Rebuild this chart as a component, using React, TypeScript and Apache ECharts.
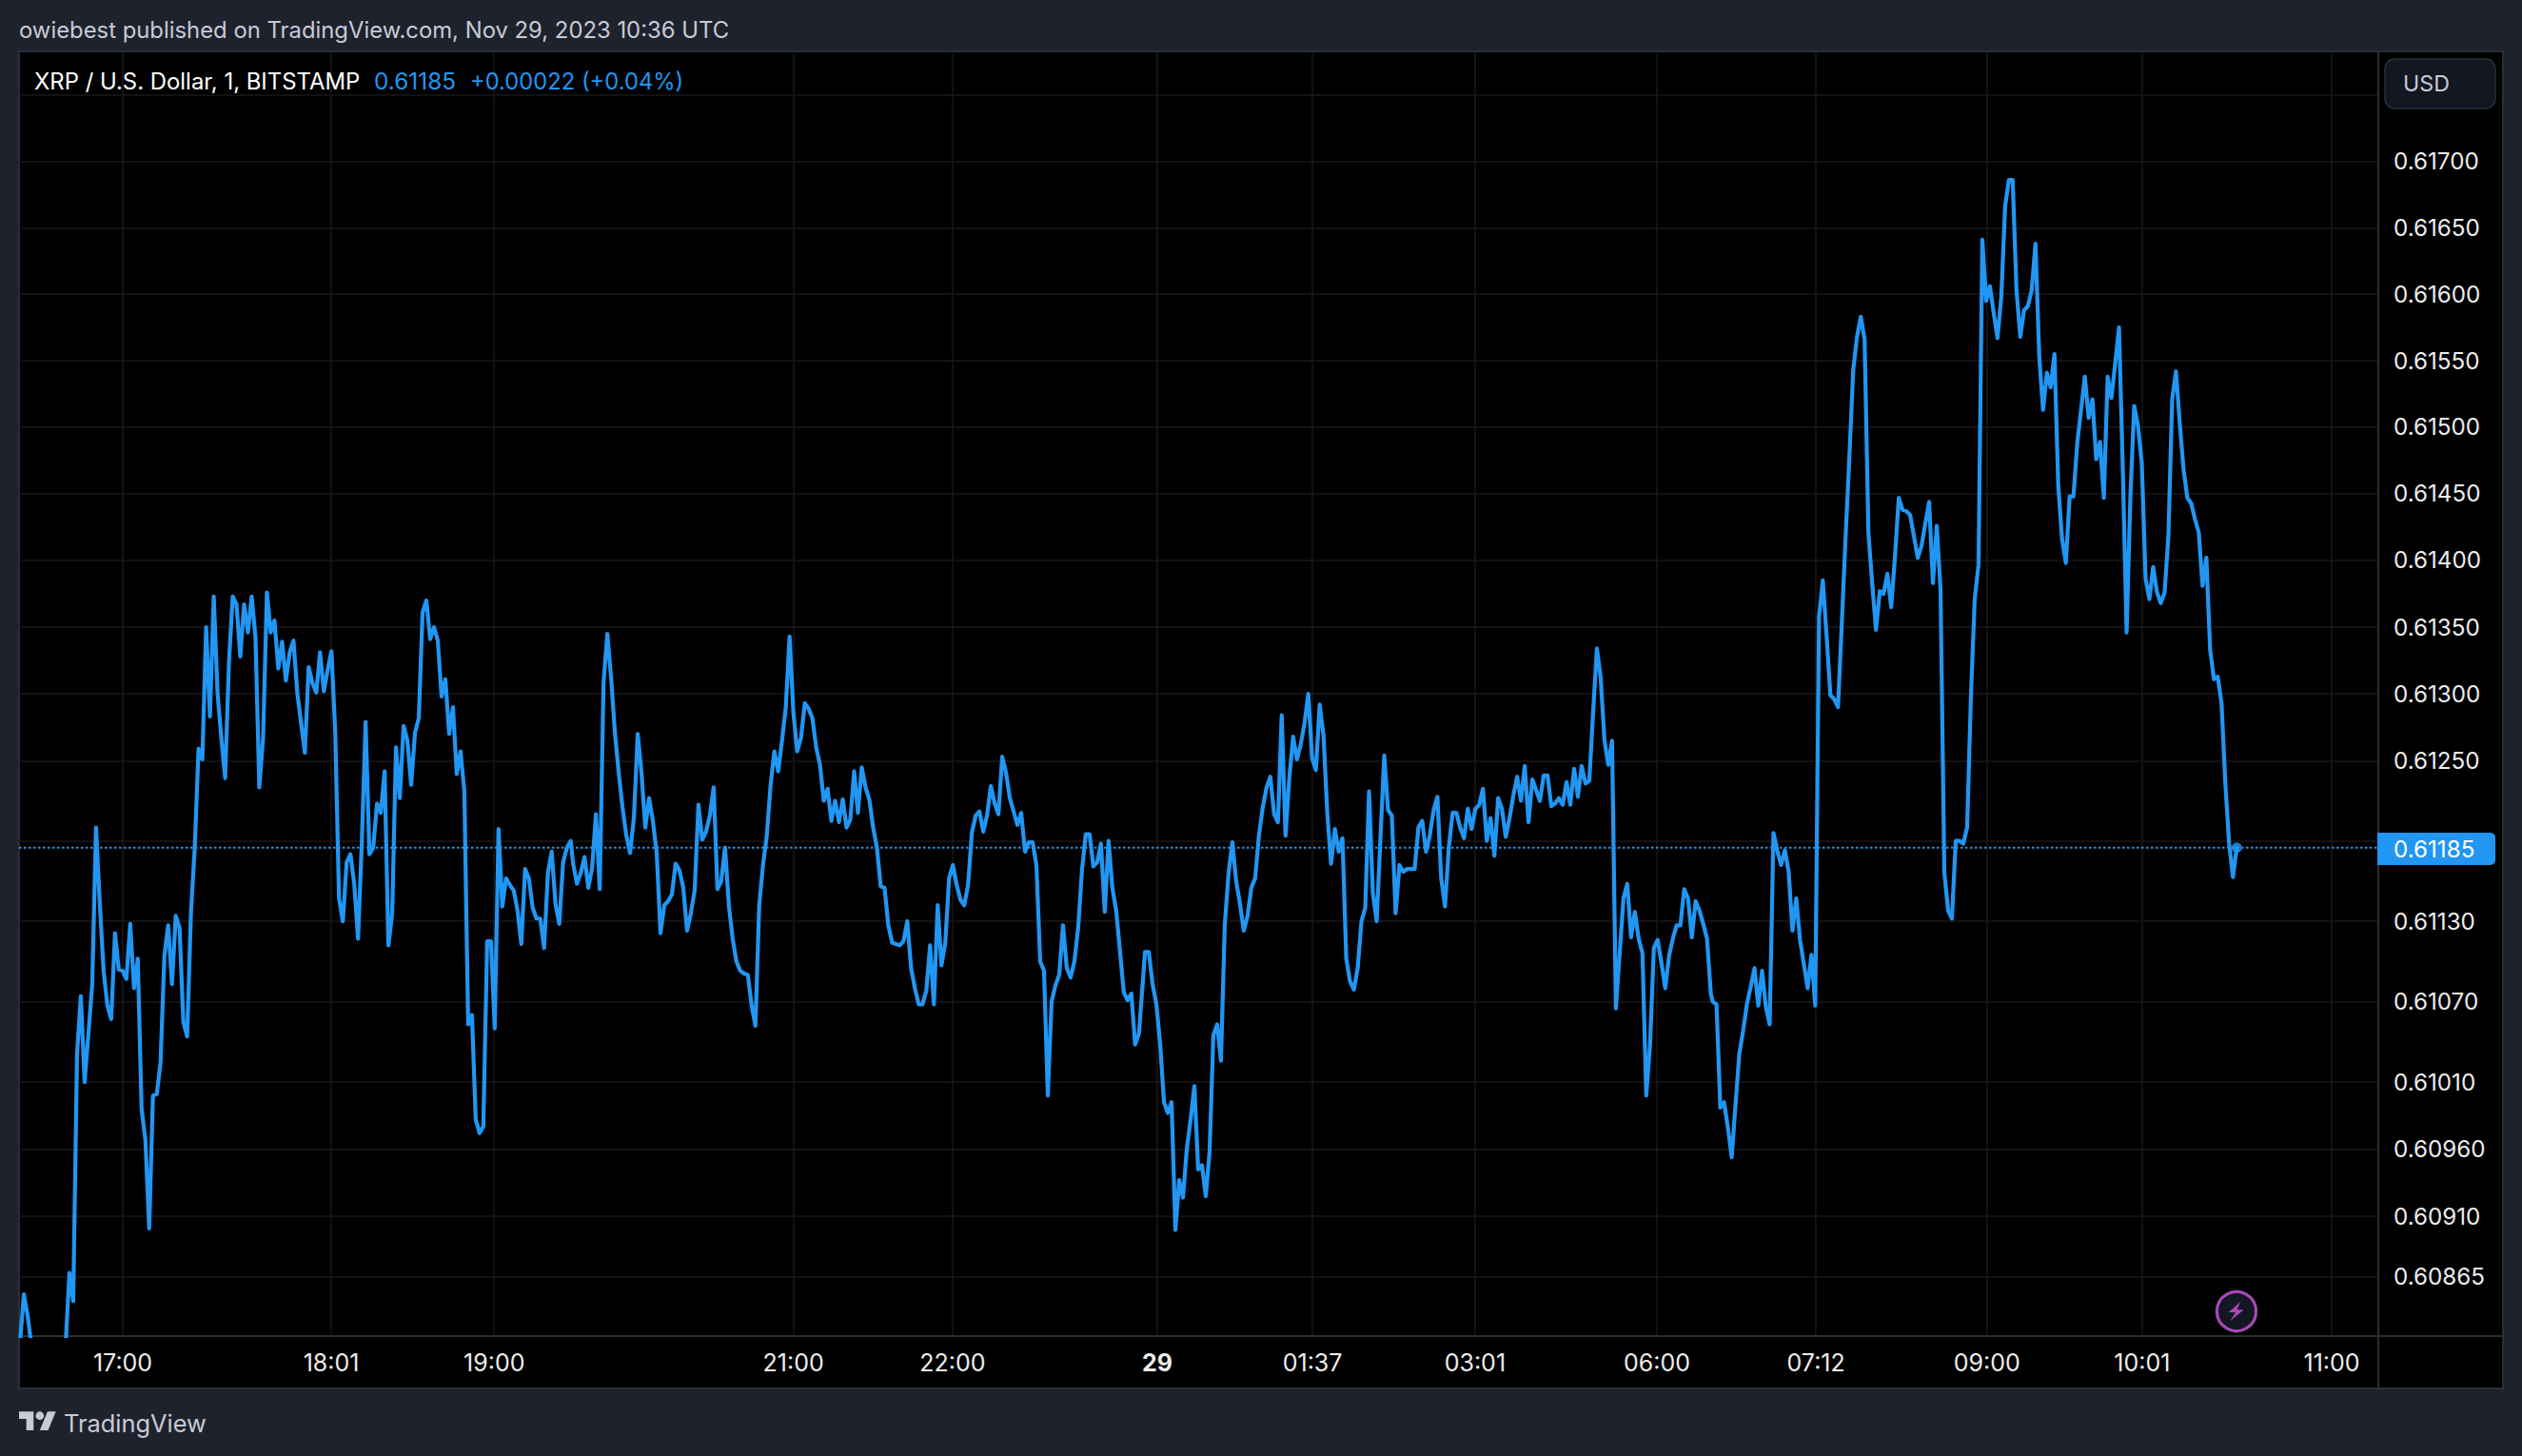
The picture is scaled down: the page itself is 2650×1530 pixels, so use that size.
import React, { useEffect, useRef } from "react";
import * as echarts from "echarts";

// Prices are in units of 0.00001 USD, one value per plotted bar.
const PRICE_UNIT = 0.00001;
const pricesA = [
  60817,60852,60836,60814,60800,60790,60785,60790,60780,60790,60795,60800,60815,
  60868,60847,61031,61074,61010,61046,61083,61200,61143,61093,61067,61057,61121,61094,61093,61087,61128,61080,61102,60990,60967,60901,61000,61001,61025,61104,61127,61083,61134,61125,61055,61044,61136,61185,61259,61251,61350,61283,61373,61301,61267,61237,61323,61373,61367,61328,61367,61346,61373,61342,61230,61267,61376,61346,61355,61319,61339,61310,61331,61340,61301,61278,61256,61320,61308,61301,61331,61302,61318,61332,61271,61147,61130,61174,61180,61158,61117,61189,61279,61180,61185,61218,61211,61242,61112,61136,61260,61222,61276,61265,61232,61271,61282,61361,61370,61341,61350,61340,61298,61311,61270,61290,61240,61257,61227,61053,61060,60982,60972,60977,61115,61115,61050,61199,61141,61162,61157,61153,61138,61113,61169,61162,61140,61132,61132,61110,61166,61182,61143,61128,61174,61185,61190,
];
const pricesB = [
  61173,61158,61166,61178,61155,61170,61210,61154,61308,61345,61312,61271,61241,61215,61194,61181,61207,61270,61241,61200,61222,61205,61181,61121,61142,61145,61150,61173,61168,61155,61123,61136,61153,61217,61191,61197,61209,61230,61154,61160,61185,61142,61117,61100,61093,61091,61090,61067,61052,61142,61172,61194,61232,61257,61242,61265,61290,61343,61286,61257,61267,61293,61289,61282,61260,61247,61220,61229,61205,61220,61204,61221,61200,61206,61242,61211,61245,61230,61221,61200,61185,61156,61155,61127,61114,61113,61112,61115,61130,61095,61080,61068,61068,61078,61112,61068,61142,61097,61114,61162,61172,61157,61146,61142,61157,61196,61209,61212,61197,61209,61231,61218,61210,61253,61241,61222,61212,61202,61211,61182,61189,61189,61172,61100,61093,61000,61070,61082,61090,61127,61095,61088,61100,61125,61168,61195,61195,61171,61174,61188,61137,61190,61155,61138,61108,61077,61071,61076,61038,61046,
];
const pricesC = [
  61107,61107,61083,61068,61038,60995,60987,60995,60900,60937,60924,60960,60982,61007,60945,60948,60925,60958,61045,61053,61026,61127,61166,61189,61160,61143,61123,61134,61155,61162,61194,61215,61230,61238,61210,61204,61284,61194,61237,61268,61251,61262,61278,61300,61252,61243,61292,61269,61211,61173,61199,61182,61192,61102,61085,61079,61095,61130,61140,61227,61151,61130,61192,61254,61213,61209,61136,61172,61167,61169,61169,61169,61200,61205,61182,61194,61213,61223,61162,61141,61185,61211,61211,61200,61192,61214,61199,61214,61217,61229,61190,61207,61179,61222,61214,61193,61207,61224,61238,61220,61246,61204,61236,61228,61220,61239,61239,61216,61218,61222,61217,61234,61217,61244,61223,61246,61233,61235,61286,61334,61312,61265,61247,61265,61065,61106,61147,61158,61118,61137,61117,61106,61000,61038,61110,61116,61099,61080,61104,61117,61127,61127,61154,61147,61118,61145,61138,61128,61117,61076,
];
const pricesD = [
  61070,61068,60991,60995,60976,60954,60993,61031,61048,61068,61081,61095,61067,61093,61066,61053,61196,61183,61172,61183,61167,61123,61147,61116,61098,61080,61105,61067,61358,61385,61343,61299,61296,61290,61353,61418,61478,61543,61568,61583,61566,61421,61383,61348,61377,61375,61390,61365,61403,61447,61438,61437,61434,61418,61402,61411,61428,61444,61383,61426,61378,61166,61138,61132,61190,61190,61188,61200,61298,61371,61397,61641,61595,61606,61586,61567,61598,61666,61686,61686,61603,61568,61588,61591,61603,61638,61553,61513,61541,61530,61555,61456,61416,61398,61448,61448,61488,61513,61538,61507,61521,61476,61489,61447,61538,61522,61548,61575,61468,61346,61448,61516,61501,61473,61386,61371,61395,61376,61368,61376,61418,61521,61542,61503,61468,61447,61443,61431,61421,61381,61402,61333,61311,61313,61293,61233,61188,61163,61185,
];
const sections: [number, number[]][] = [[4.75, pricesA], [150.4, pricesB], [301, pricesC], [450.5, pricesD]];

const LAST_PRICE = 0.61185;
const labelledPrices = [0.617,0.6165,0.616,0.6155,0.615,0.6145,0.614,0.6135,0.613,0.6125,0.6113,0.6107,0.6101,0.6096,0.6091,0.60865];
const gridPrices = [0.6175,...labelledPrices,0.6119];
const timeTickBars = [31.8,86.7,129.6,208.4,250.3,304.2,345.1,387.9,435.8,477.7,522.7,563.6,613.5];
const timeLabels = ["17:00","18:01","19:00","21:00","22:00","29","01:37","03:01","06:00","07:12","09:00","10:01","11:00"];

const BG = "#1e222d";
const BORDER = "#2a2e39";
const AXIS = "#2e2e2e";
const GRID = "#191919";
const BLUE = "#2196f3";
const FONT = "Inter";

const W = 2650, H = 1530;
const PANE = { left: 20, top: 54, right: 2499, bottom: 1404, outerR: 2630, outerB: 1459 };
const X_MIN = (PANE.left-2.14)/3.99;
const X_MAX = (PANE.right-2.14)/3.99;

echarts.graphic.registerShape("tvLogo", echarts.graphic.extendPath(
  "M14 22H7V11H0V4h14v18zM28 22h-8l7.5-18h8L28 22zM24 8a4 4 0 1 1-8 0 4 4 0 0 1 8 0z", {} as any) as any);

const lineData = sections.flatMap(([start, prices]) => prices.map((p,i)=>[start+i,p*PRICE_UNIT]));

export default function App() {
  const ref = useRef<HTMLDivElement>(null);
  useEffect(() => {
    if (!ref.current) return;
    const chart = echarts.init(ref.current, undefined, { renderer: "svg", width: W, height: H });
    const txt = (text: string, x: number, y: number, fill: string, size: number, extra: any = {}) => ({
      type: "text", z: 100, silent: true,
      style: { text, x, y, fill, font: `${size}px ${FONT}`, textVerticalAlign: "middle", ...extra },
    });
    chart.setOption({
      animation: false,
      backgroundColor: BG,
      grid: { left: PANE.left, top: PANE.top, width: PANE.right-PANE.left, height: PANE.bottom-PANE.top, show: false, containLabel: false },
      xAxis: {
        type: "value",
        min: X_MIN,
        max: X_MAX,
        axisLine: { show: true, lineStyle: { color: AXIS, width: 2 } },
        axisTick: { show: false, customValues: timeTickBars },
        splitLine: { show: true, lineStyle: { color: GRID, width: 1.5 } },
        axisLabel: {
          customValues: timeTickBars,
          color: "#ececec", fontFamily: FONT, fontSize: 25, margin: 15,
          formatter: (v: number) => {
            const i = timeTickBars.indexOf(v);
            const s = timeLabels[i] ?? "";
            return s === "29" ? `{b|${s}}` : s;
          },
          rich: { b: { fontWeight: "bold", color: "#ececec", fontFamily: FONT, fontSize: 25 } },
        },
      },
      yAxis: {
        type: "log",
        logBase: 10,
        position: "right",
        min: 0.60821,
        max: 0.61783,
        axisLine: { show: true, lineStyle: { color: AXIS, width: 2 } },
        axisTick: { show: false, customValues: gridPrices },
        splitLine: { show: true, lineStyle: { color: GRID, width: 1.5 } },
        axisLabel: {
          customValues: labelledPrices,
          color: "#ececec", fontFamily: FONT, fontSize: 24.2, margin: 16,
          formatter: (v: number) => v.toFixed(5),
        },
      },
      graphic: { elements: [
        { type: "rect", z: -10, silent: true, shape: { x: PANE.left, y: PANE.top, width: PANE.outerR-PANE.left, height: PANE.outerB-PANE.top }, style: { fill: "#000", stroke: BORDER, lineWidth: 2 } },
        { type: "line", z: 1, silent: true, shape: { x1: PANE.right, y1: PANE.bottom, x2: PANE.outerR, y2: PANE.bottom }, style: { stroke: AXIS, lineWidth: 2 } },
        { type: "line", z: 1, silent: true, shape: { x1: PANE.right, y1: PANE.bottom, x2: PANE.right, y2: PANE.outerB }, style: { stroke: AXIS, lineWidth: 2 } },
        txt("owiebest published on TradingView.com, Nov 29, 2023 10:36 UTC", 20, 31, "#c8cad6", 23.85),
        txt("XRP / U.S. Dollar, 1, BITSTAMP", 36, 85, "#ffffff", 23.9),
        txt("0.61185", 393, 85, BLUE, 24.4),
        txt("+0.00022 (+0.04%)", 494, 85, BLUE, 23.75),
        { type: "rect", z: 100, silent: true, shape: { x: 2506, y: 62, width: 116, height: 52, r: 10 }, style: { fill: "#131722", stroke: BORDER, lineWidth: 1.5 } },
        txt("USD", 2525, 88, "#c8cad6", 23.2),
        { type: "rect", z: 100, silent: true, shape: { x: 2498, y: 875, width: 124, height: 34, r: [0, 5, 5, 0] }, style: { fill: BLUE } },
        txt("0.61185", 2515, 892, "#ffffff", 24.2),
        { type: "circle", z: 100, silent: true, shape: { cx: 2350, cy: 1378, r: 20.5 }, style: { fill: "#131722", stroke: "#ab47bc", lineWidth: 3 } },
        { type: "circle", z: 99, silent: true, shape: { cx: 2350, cy: 1378, r: 22.5 }, style: { fill: BORDER } },
        { type: "polygon", z: 101, silent: true, shape: { points: [[2354,1368],[2341.7,1379],[2349,1379],[2343.3,1388.3],[2357.7,1376.3],[2350.7,1376.3]] }, style: { fill: "#ab47bc" } },
        { type: "tvLogo", z: 100, silent: true, x: 20, y: 1479, scaleX: 1.09, scaleY: 1.09, style: { fill: "#c8cad6" } },
        txt("TradingView", 67, 1495, "#c8cad6", 25.4),
      ] },
      series: [
        {
          type: "line", z: 4, silent: true, showSymbol: false,
          data: [[X_MIN, LAST_PRICE], [X_MAX, LAST_PRICE]],
          lineStyle: { color: BLUE, width: 2, type: [2.5, 2.5] }, itemStyle: { color: BLUE },
        },
        {
          type: "line", data: lineData, showSymbol: false, smooth: false, z: 5, clip: true,
          lineStyle: { color: BLUE, width: 4.2, join: "round", cap: "round" }, itemStyle: { color: BLUE },
        },
        {
          type: "scatter", z: 6, symbol: "circle", symbolSize: 11, silent: true,
          data: [lineData[lineData.length-1]], itemStyle: { color: BLUE },
        },
      ],
    });
    return () => chart.dispose();
  }, []);
  return <div ref={ref} style={{ position: "absolute", left: 0, top: 0, width: W, height: H }} />;
}
